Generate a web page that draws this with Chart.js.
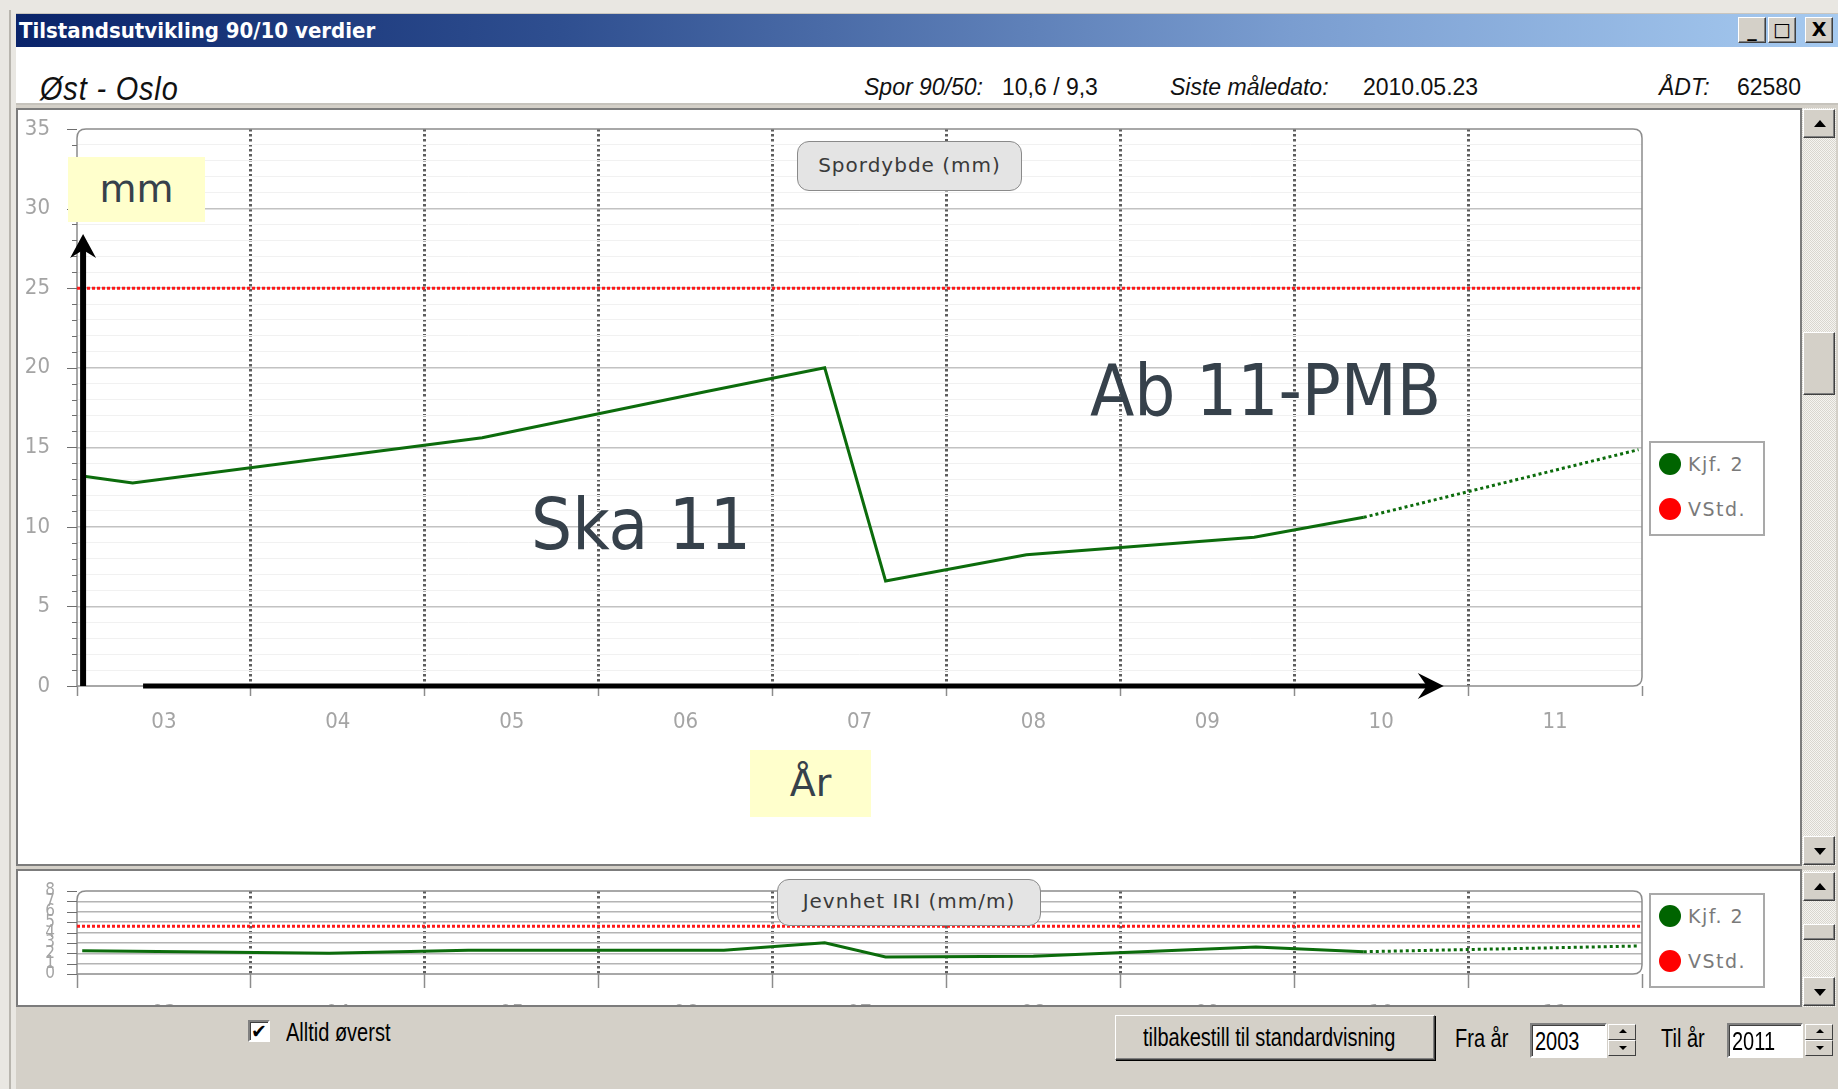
<!DOCTYPE html>
<html lang="no">
<head>
<meta charset="utf-8">
<title>Tilstandsutvikling 90/10 verdier</title>
<script src="https://cdn.jsdelivr.net/npm/chart.js@4.4.1/dist/chart.umd.min.js"></script>
<style>
  html, body { margin: 0; width: 1838px; height: 1089px; overflow: hidden; }
  body { position: relative; background: #d4d0c8; font-family: "Liberation Sans", Arial, sans-serif; }
  .a { position: absolute; }
  .sq { transform: scaleX(0.8); transform-origin: 0 50%; }

  .frameTop { left: 0; top: 0; width: 1838px; height: 14px; background: #e9e7e2; border-bottom: 1px solid #c9c6bf; box-sizing: border-box; }
  .frameLeft { left: 0; top: 0; width: 16px; height: 1089px; background: #e9e7e2; }
  .frameLeft::after { content: ""; position: absolute; left: 9px; top: 10px; bottom: 0; width: 2px; background: #b8b5ae; }

  .titlebar { left: 16px; top: 14px; width: 1822px; height: 33px;
    background: linear-gradient(to right, #0a246a 0%, #2f4f90 30%, #7a9dd0 70%, #a6caf0 100%); }
  .titlebar span { position: absolute; left: 3px; top: 4px; color: #fff;
    font: bold 22px "DejaVu Sans Condensed", "DejaVu Sans", sans-serif; }
  .wbtn { top: 17px; width: 28px; height: 26px; background: #d4d0c8; box-sizing: border-box;
    border: 1px solid; border-color: #fff #404040 #404040 #fff; box-shadow: inset -1px -1px 0 #808080;
    font: bold 19px "DejaVu Sans", sans-serif; line-height: 23px; text-align: center; color: #000; }

  .info { left: 16px; top: 47px; width: 1822px; height: 58px; background: #fff; border-bottom: 2px solid #c6c3bc; box-sizing: border-box; }
  .it { top: 70px; height: 34px; line-height: 34px; font-size: 23px; color: #111; white-space: nowrap; }
  .it i { font-style: italic; }

  .panel { background: #fff; box-sizing: border-box; border: 2px solid #7c7c7c; }
  .wrap { overflow: hidden; }

  .scroll { background: repeating-conic-gradient(#f5f4f0 0% 25%, #d9d6cf 0% 50%) 0 0 / 2px 2px; }
  .sbtn { left: 1px; width: 32px; background: #d4d0c8; box-sizing: border-box;
    border: 1px solid; border-color: #fff #404040 #404040 #fff; box-shadow: inset -1px -1px 0 #808080; }
  .up::after, .down::after { content: ""; position: absolute; left: 10px; border-left: 6px solid transparent; border-right: 6px solid transparent; }
  .up::after { top: 10px; border-bottom: 7px solid #000; }
  .down::after { top: 11px; border-top: 7px solid #000; }

  .pill { box-sizing: border-box; border: 1.5px solid #8a8a8a; border-radius: 12px; background: #e4e4e4;
    font: 20px "DejaVu Sans", sans-serif; letter-spacing: 1px; color: #3a3a3a; text-align: center; }
  .legend { box-sizing: border-box; border: 2px solid #a9a9a9; background: #fff; }
  .legend div { position: absolute; left: 8px; height: 26px; line-height: 26px; font: 19px "DejaVu Sans", sans-serif; letter-spacing: 1.5px; color: #7a7a7a; white-space: nowrap; }
  .legend b { display: inline-block; width: 22px; height: 22px; border-radius: 50%; vertical-align: -4px; margin-right: 7px; }

  .note { background: #ffffcc; color: #36414b; font: 38px "DejaVu Sans", sans-serif; text-align: center; }
  .big { color: #36414b; font: 72px "DejaVu Sans Condensed", "DejaVu Sans", sans-serif; white-space: nowrap; line-height: 80px; height: 80px; }

  .ctl { font-size: 25px; color: #000; white-space: nowrap; height: 34px; line-height: 34px; }
  .btn { background: #d4d0c8; box-sizing: border-box; border: 1px solid; border-color: #fff #404040 #404040 #fff;
    box-shadow: inset -1px -1px 0 #808080, 1px 1px 0 #000; }
  .inp { background: #fff; box-sizing: border-box; border: 2px solid; border-color: #808080 #fff #fff #808080;
    box-shadow: inset 1px 1px 0 #404040; }
  .spin { background: #d4d0c8; width: 30px; height: 34px; }
  .spin div { position: absolute; left: 1px; width: 28px; height: 16px; box-sizing: border-box;
    border: 1px solid; border-color: #fff #404040 #404040 #fff; background: #d4d0c8; }
  .spin div::after { content: ""; position: absolute; left: 10px; border-left: 4px solid transparent; border-right: 4px solid transparent; }
  .spin .su::after { top: 4px; border-bottom: 4px solid #000; }
  .spin .sd::after { top: 5px; border-top: 4px solid #000; }
  .chk { background: #fff; box-sizing: border-box; border: 2px solid; border-color: #808080 #fff #fff #808080;
    box-shadow: inset 1px 1px 0 #404040; font: bold 19px "DejaVu Sans", sans-serif; line-height: 18px; text-align: center; }
</style>
</head>
<body>
  <div class="a frameTop"></div>
  <div class="a frameLeft"></div>

  <div class="a titlebar"><span>Tilstandsutvikling 90/10 verdier</span></div>
  <div class="a wbtn" style="left:1738px">_</div>
  <div class="a wbtn" style="left:1768px">□</div>
  <div class="a wbtn" style="left:1805px">X</div>

  <div class="a info"></div>
  <div class="a it sq" style="left:40px; top:66px; height:44px; line-height:44px; font-size:34px; letter-spacing:1px; transform:scaleX(0.85)"><i>Øst - Oslo</i></div>
  <div class="a it" style="left:864px"><i>Spor 90/50:</i></div>
  <div class="a it" style="left:1002px">10,6 / 9,3</div>
  <div class="a it" style="left:1170px"><i>Siste måledato:</i></div>
  <div class="a it" style="left:1363px">2010.05.23</div>
  <div class="a it" style="left:1659px"><i>ÅDT:</i></div>
  <div class="a it" style="left:1737px">62580</div>

  <!-- hovedgraf: spordybde -->
  <div class="a panel" style="left:16px; top:108px; width:1786px; height:758px"></div>
  <div class="a wrap" style="left:16px; top:108px; width:1786px; height:758px">
    <canvas id="sporChart" width="1786" height="758"></canvas>
  </div>
  <div class="a pill" style="left:797px; top:141px; width:225px; height:50px; line-height:46px">Spordybde (mm)</div>
  <div class="a legend" style="left:1649px; top:441px; width:116px; height:95px">
    <div style="top:10px"><b style="background:#006400"></b>Kjf. 2</div>
    <div style="top:55px"><b style="background:#ff0000"></b>VStd.</div>
  </div>
  <div class="a note" style="left:68px; top:157px; width:137px; height:65px; line-height:64px">mm</div>
  <div class="a note" style="left:750px; top:750px; width:121px; height:67px; line-height:67px">År</div>
  <div class="a big" style="left:531px; top:484px">Ska 11</div>
  <div class="a big" style="left:1090px; top:350px">Ab 11-PMB</div>

  <div class="a scroll" style="left:1802px; top:108px; width:34px; height:758px">
    <div class="a sbtn up" style="top:1px; height:29px"></div>
    <div class="a sbtn" style="top:224px; height:63px"></div>
    <div class="a sbtn down" style="top:728px; height:29px"></div>
  </div>

  <!-- nedre graf: jevnhet IRI -->
  <div class="a panel" style="left:16px; top:869px; width:1786px; height:138px"></div>
  <div class="a wrap" style="left:16px; top:870px; width:1786px; height:135px">
    <canvas id="iriChart" width="1786" height="180"></canvas>
  </div>
  <div class="a pill" style="left:777px; top:879px; width:264px; height:47px; line-height:43px">Jevnhet IRI (mm/m)</div>
  <div class="a legend" style="left:1649px; top:893px; width:116px; height:95px">
    <div style="top:10px"><b style="background:#006400"></b>Kjf. 2</div>
    <div style="top:55px"><b style="background:#ff0000"></b>VStd.</div>
  </div>

  <div class="a scroll" style="left:1802px; top:870px; width:34px; height:137px">
    <div class="a sbtn up" style="top:2px; height:29px"></div>
    <div class="a sbtn" style="top:54px; height:16px"></div>
    <div class="a sbtn down" style="top:107px; height:29px"></div>
  </div>

  <!-- kontroller -->
  <div class="a chk" style="left:248px; top:1020px; width:22px; height:22px">✔</div>
  <div class="a ctl sq" style="left:286px; top:1015px">Alltid øverst</div>
  <div class="a btn" style="left:1115px; top:1015px; width:320px; height:45px"></div>
  <div class="a ctl sq" style="left:1143px; top:1020px">tilbakestill til standardvisning</div>
  <div class="a ctl sq" style="left:1455px; top:1021px">Fra år</div>
  <div class="a inp" style="left:1530px; top:1023px; width:77px; height:35px"></div>
  <div class="a ctl sq" style="left:1535px; top:1024px">2003</div>
  <div class="a spin" style="left:1607px; top:1023px"><div class="su" style="top:1px"></div><div class="sd" style="top:17px"></div></div>
  <div class="a ctl sq" style="left:1661px; top:1021px">Til år</div>
  <div class="a inp" style="left:1727px; top:1023px; width:76px; height:35px"></div>
  <div class="a ctl sq" style="left:1732px; top:1024px">2011</div>
  <div class="a spin" style="left:1804px; top:1023px"><div class="su" style="top:1px"></div><div class="sd" style="top:17px"></div></div>

<script>
// --- data (år som desimaltall) ---
const yearLabels = ['03', '04', '05', '06', '07', '08', '09', '10', '11'];
const firstYear = 2003;
const lastYear = 2012;

// Spordybde (mm), Kjf. 2
const sporYears = [2003.03, 2003.32, 2005.33, 2006.62, 2007.30, 2007.65, 2008.46, 2009.77, 2010.40];
const sporValues = [13.2, 12.75, 15.6, 18.5, 20.0, 6.6, 8.25, 9.35, 10.6];
const sporProgYears = [2010.40, 2011.98];
const sporProgValues = [10.6, 14.85];
const sporVStd = 25;

// Jevnhet IRI (mm/m), Kjf. 2
const iriYears = [2003.03, 2003.32, 2004.45, 2005.25, 2006.72, 2007.30, 2007.65, 2008.50, 2009.78, 2010.40];
const iriValues = [2.25, 2.2, 2.0, 2.3, 2.3, 3.0, 1.65, 1.7, 2.6, 2.15];
const iriProgYears = [2010.40, 2011.98];
const iriProgValues = [2.15, 2.7];
const iriVStd = 4.6;

// piler langs aksene (i dataenheter)
const arrowUp = { x: 2003.035, from: 0, to: 28.4 };
const arrowRight = { y: 0, from: 2003.38, to: 2010.86 };

const GREEN = '#0c6c0c';
const RED = '#ff1a1a';
const TICKFONT = { family: 'DejaVu Sans Condensed', size: 22 };
const NONE = 'rgba(0,0,0,0)';

function pts(xs, ys) {
	return xs.map((x, i) => ({ x: x, y: ys[i] }));
}

function isYear(v) { return Math.abs(v - Math.round(v)) < 1e-6; }

function xAxis(height, tickLen) {
	return {
		type: 'linear', min: firstYear, max: lastYear,
		afterFit: s => { s.height = height; },
		ticks: {
			stepSize: 0.5, autoSkip: false, maxRotation: 0, padding: 13,
			color: '#a4a4a4', font: TICKFONT,
			callback: v => isYear(v) ? '' : yearLabels[Math.floor(v) - firstYear]
		},
		grid: {
			lineWidth: 3,
			color: c => (isYear(c.tick.value) && c.tick.value > firstYear && c.tick.value < lastYear) ? '#5e5e5e' : NONE,
			tickLength: tickLen, tickWidth: 1.5,
			tickColor: c => isYear(c.tick.value) ? '#8c8c8c' : NONE
		},
		border: { display: false, dash: [2.5, 2.5] }
	};
}

// y-akse: usynlige tick-streker gir avstand til etikettene (ticks.padding ville skjøvet plottet ned)
function yAxis(max, labelGap, font, gridColor, labelCb) {
	return {
		min: 0, max: max,
		afterFit: s => { s.width = 61; },
		ticks: { stepSize: 1, autoSkip: false, padding: 0, color: '#a4a4a4', font: font, callback: labelCb },
		grid: {
			drawTicks: true, tickLength: labelGap, tickColor: NONE,
			color: c => (c.tick.value === 0 || c.tick.value === max) ? NONE : gridColor(c.tick.value),
			lineWidth: c => gridColor(c.tick.value) === '#f1f1f1' ? 1 : 1.5
		},
		border: { display: false }
	};
}

// ramme med avrundede hjørner + små tick-streker på y-aksen
const framePlugin = {
	id: 'frame',
	beforeDatasetsDraw(chart, args, opts) {
		const { ctx, chartArea: a, scales: { y } } = chart;
		const r = 9;
		ctx.save();
		ctx.strokeStyle = '#8c8c8c';
		ctx.lineWidth = 1.5;
		ctx.beginPath();
		ctx.moveTo(a.left, a.bottom);
		ctx.lineTo(a.left, a.top + r);
		ctx.quadraticCurveTo(a.left, a.top, a.left + r, a.top);
		ctx.lineTo(a.right - r, a.top);
		ctx.quadraticCurveTo(a.right, a.top, a.right, a.top + r);
		ctx.lineTo(a.right, a.bottom - r);
		ctx.quadraticCurveTo(a.right, a.bottom, a.right - r, a.bottom);
		ctx.closePath();
		ctx.stroke();
		ctx.strokeStyle = '#6e6e6e';
		ctx.lineWidth = 1;
		y.ticks.forEach(t => {
			const py = Math.round(y.getPixelForValue(t.value)) + 0.5;
			const len = t.value % opts.major === 0 ? 10 : 5;
			ctx.beginPath();
			ctx.moveTo(a.left - len, py);
			ctx.lineTo(a.left, py);
			ctx.stroke();
		});
		ctx.restore();
	}
};

const arrowPlugin = {
	id: 'axisArrows',
	afterDraw(chart) {
		const { ctx, scales: { x, y } } = chart;
		ctx.save();
		ctx.fillStyle = '#000';
		ctx.strokeStyle = '#000';
		ctx.lineWidth = 6;
		const vx = x.getPixelForValue(arrowUp.x);
		const vTop = y.getPixelForValue(arrowUp.to);
		const vBot = y.getPixelForValue(arrowUp.from);
		ctx.beginPath(); ctx.moveTo(vx, vBot); ctx.lineTo(vx, vTop + 14); ctx.stroke();
		ctx.beginPath();
		ctx.moveTo(vx, vTop); ctx.lineTo(vx + 13, vTop + 24); ctx.lineTo(vx, vTop + 16); ctx.lineTo(vx - 13, vTop + 24);
		ctx.closePath(); ctx.fill();

		const hy = y.getPixelForValue(arrowRight.y);
		const hx0 = x.getPixelForValue(arrowRight.from);
		const hx1 = x.getPixelForValue(arrowRight.to);
		ctx.lineWidth = 5;
		ctx.beginPath(); ctx.moveTo(hx0, hy); ctx.lineTo(hx1 - 14, hy); ctx.stroke();
		ctx.beginPath();
		ctx.moveTo(hx1, hy); ctx.lineTo(hx1 - 26, hy - 13); ctx.lineTo(hx1 - 17, hy); ctx.lineTo(hx1 - 26, hy + 13);
		ctx.closePath(); ctx.fill();
		ctx.restore();
	}
};

function lineSets(years, values, progYears, progValues, vstd) {
	return [
		{ label: 'VStd.', data: pts([firstYear, lastYear], [vstd, vstd]), borderColor: RED, borderWidth: 3, borderDash: [3, 2], pointRadius: 0 },
		{ label: 'Kjf. 2', data: pts(years, values), borderColor: GREEN, borderWidth: 3, pointRadius: 0 },
		{ label: 'Kjf. 2 prognose', data: pts(progYears, progValues), borderColor: GREEN, borderWidth: 3, borderDash: [3, 3], pointRadius: 0 }
	];
}

var sporChart = new Chart('sporChart', {
	type: 'line',
	data: { datasets: lineSets(sporYears, sporValues, sporProgYears, sporProgValues, sporVStd) },
	options: {
		responsive: false, animation: false,
		layout: { padding: { top: 21, right: 160, left: 0, bottom: 0 } },
		plugins: { legend: { display: false }, tooltip: { enabled: false }, frame: { major: 5 } },
		scales: {
			x: xAxis(180, 10),
			y: yAxis(35, 27, TICKFONT, v => v % 5 === 0 ? '#c2c2c2' : '#f1f1f1', v => v % 5 === 0 ? v : '')
		}
	},
	plugins: [framePlugin, arrowPlugin]
});

var iriChart = new Chart('iriChart', {
	type: 'line',
	data: { datasets: lineSets(iriYears, iriValues, iriProgYears, iriProgValues, iriVStd) },
	options: {
		responsive: false, animation: false,
		layout: { padding: { top: 21, right: 160, left: 0, bottom: 0 } },
		plugins: { legend: { display: false }, tooltip: { enabled: false }, frame: { major: 1 } },
		scales: {
			x: xAxis(76, 14),
			y: yAxis(8, 22, { family: 'DejaVu Sans Condensed', size: 17 }, v => '#b4b4b4', v => v)
		}
	},
	plugins: [framePlugin]
});
</script>
</body>
</html>
